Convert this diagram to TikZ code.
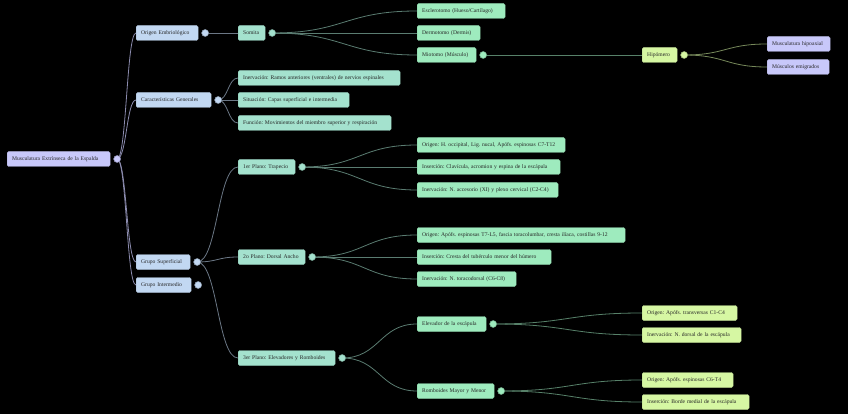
\documentclass[tikz,border=0pt]{standalone}
\usepackage{fontspec}
\setmainfont{Liberation Serif}
\usetikzlibrary{calc,positioning,backgrounds}
\frenchspacing

\definecolor{rootc}{HTML}{C8C8FA}
\definecolor{lonec}{HTML}{C2D8F2}
\definecolor{ltwoc}{HTML}{A4E2CE}
\definecolor{lthreec}{HTML}{9EEBBE}
\definecolor{lfourc}{HTML}{D6F7A3}
\definecolor{lfivec}{HTML}{C8C8FA}

\tikzset{
  box/.style={rectangle, rounded corners=1.5pt, anchor=west, minimum height=15pt,
    inner xsep=5pt, inner ysep=0pt, align=left, text=black!85,
    font=\fontsize{5.6}{6.5}\selectfont, line width=0.4pt},
  dot/.style={circle, inner sep=0pt, minimum size=7pt, line width=0.5pt},
  link/.style={line width=0.8pt},
}

% curved link: from the parent's dot to the child's left side
\newcommand\lnk[3]{%
  \draw[link,#1] let \p1=(#2), \p2=(#3.west) in
    (\p1) .. controls ({(\x1+\x2)/2},\y1) and ({(\x1+\x2)/2},\y2) .. (\p2);}

\begin{document}
\begin{tikzpicture}[x=1pt, y=-1pt]
  % background
  \begin{pgfonlayer}{background}
    \fill[black] (0,0) rectangle (848,414);
  \end{pgfonlayer}
  \useasboundingbox (0,0) rectangle (848,414);

  % root
  \node[box, fill=rootc, draw=rootc!85!black, text width=93pt] (mee) at (7,159) {Musculatura Extrínseca de la Espalda};

  % level 1
  \node[box, fill=lonec, draw=lonec!85!black, text width=52pt] (origen) at (136,33) {Origen Embriológico};
  \node[box, fill=lonec, draw=lonec!85!black, text width=65pt] (caract) at (136,100) {Características Generales};
  \node[box, fill=lonec, draw=lonec!85!black, text width=44pt] (gsup) at (136,262) {Grupo Superficial};
  \node[box, fill=lonec, draw=lonec!85!black, text width=45pt] (ginter) at (136,285) {Grupo Intermedio};

  % level 2
  \node[box, fill=ltwoc, draw=ltwoc!85!black, text width=17pt] (somita) at (238,33) {Somita};
  \node[box, fill=ltwoc, draw=ltwoc!85!black, text width=152pt] (inerv) at (238,78) {Inervación: Ramos anteriores (ventrales) de nervios espinales};
  \node[box, fill=ltwoc, draw=ltwoc!85!black, text width=101pt] (situ) at (238,100) {Situación: Capas superficial e intermedia};
  \node[box, fill=ltwoc, draw=ltwoc!85!black, text width=143pt] (func) at (238,123) {Función: Movimientos del miembro superior y respiración};
  \node[box, fill=ltwoc, draw=ltwoc!85!black, text width=47pt] (trap) at (238,167) {1er Plano: Trapecio};
  \node[box, fill=ltwoc, draw=ltwoc!85!black, text width=57pt] (dorsal) at (238,257) {2o Plano: Dorsal Ancho};
  \node[box, fill=ltwoc, draw=ltwoc!85!black, text width=87pt] (elevrom) at (238,358) {3er Plano: Elevadores y Romboides};

  % level 3
  \node[box, fill=lthreec, draw=lthreec!85!black, text width=78pt] (escl) at (417,11) {Esclerotomo (Hueso/Cartílago)};
  \node[box, fill=lthreec, draw=lthreec!85!black, text width=53pt] (derm) at (417,33) {Dermotomo (Dermis)};
  \node[box, fill=lthreec, draw=lthreec!85!black, text width=49pt] (mio) at (417,55) {Miotomo (Músculo)};
  \node[box, fill=lthreec, draw=lthreec!85!black, text width=138pt] (trapo) at (417,145) {Origen: H. occipital, Lig. nucal, Apófs. espinosas C7-T12};
  \node[box, fill=lthreec, draw=lthreec!85!black, text width=133pt] (trapi) at (417,167) {Inserción: Clavícula, acromion y espina de la escápula};
  \node[box, fill=lthreec, draw=lthreec!85!black, text width=131pt] (trapn) at (417,190) {Inervación: N. accesorio (XI) y plexo cervical (C2-C4)};
  \node[box, fill=lthreec, draw=lthreec!85!black, text width=198pt] (dorso) at (417,235) {Origen: Apófs. espinosas T7-L5, fascia toracolumbar, cresta ilíaca, costillas 9-12};
  \node[box, fill=lthreec, draw=lthreec!85!black, text width=124pt] (dorsi) at (417,257) {Inserción: Cresta del tubérculo menor del húmero};
  \node[box, fill=lthreec, draw=lthreec!85!black, text width=89pt] (dorsn) at (417,279) {Inervación: N. toracodorsal (C6-C8)};
  \node[box, fill=lthreec, draw=lthreec!85!black, text width=59pt] (levsc) at (417,324) {Elevador de la escápula};
  \node[box, fill=lthreec, draw=lthreec!85!black, text width=67pt] (romb) at (417,391) {Romboides Mayor y Menor};

  % level 4
  \node[box, fill=lfourc, draw=lfourc!85!black, text width=25pt] (hipo) at (642,55) {Hipómero};
  \node[box, fill=lfourc, draw=lfourc!85!black, text width=85pt] (levo) at (642,313) {Origen: Apófs. transversas C1-C4};
  \node[box, fill=lfourc, draw=lfourc!85!black, text width=89pt] (levn) at (642,335) {Inervación: N. dorsal de la escápula};
  \node[box, fill=lfourc, draw=lfourc!85!black, text width=81pt] (rombo) at (642,380) {Origen: Apófs. espinosas C6-T4};
  \node[box, fill=lfourc, draw=lfourc!85!black, text width=97pt] (rombi) at (642,402) {Inserción: Borde medial de la escápula};

  % level 5
  \node[box, fill=lfivec, draw=lfivec!85!black, text width=53pt] (hipax) at (767,44) {Musculatura hipoaxial};
  \node[box, fill=lfivec, draw=lfivec!85!black, text width=52pt] (emig) at (767,67) {Músculos emigrados};

  % toggle dots
  \node[dot, fill=rootc, draw=rootc!70!black, right=3pt of mee] (d-mee) {};
  \node[dot, fill=lonec, draw=lonec!70!black, right=3pt of origen] (d-origen) {};
  \node[dot, fill=lonec, draw=lonec!70!black, right=3pt of caract] (d-caract) {};
  \node[dot, fill=lonec, draw=lonec!70!black, right=3pt of gsup] (d-gsup) {};
  \node[dot, fill=lonec, draw=lonec!70!black, right=3pt of ginter] (d-ginter) {};
  \node[dot, fill=ltwoc, draw=ltwoc!70!black, right=3pt of somita] (d-somita) {};
  \node[dot, fill=ltwoc, draw=ltwoc!70!black, right=3pt of trap] (d-trap) {};
  \node[dot, fill=ltwoc, draw=ltwoc!70!black, right=3pt of dorsal] (d-dorsal) {};
  \node[dot, fill=ltwoc, draw=ltwoc!70!black, right=3pt of elevrom] (d-elevrom) {};
  \node[dot, fill=lthreec, draw=lthreec!70!black, right=3pt of mio] (d-mio) {};
  \node[dot, fill=lthreec, draw=lthreec!70!black, right=3pt of levsc] (d-levsc) {};
  \node[dot, fill=lthreec, draw=lthreec!70!black, right=3pt of romb] (d-romb) {};
  \node[dot, fill=lfourc, draw=lfourc!70!black, right=3pt of hipo] (d-hipo) {};

  % links, kept under the boxes and dots
  \begin{pgfonlayer}{background}
  \foreach \c in {origen,caract,gsup,ginter}{\lnk{rootc!70!black}{d-mee}{\c}}
  \lnk{lonec!55!black}{d-origen}{somita}
  \foreach \c in {inerv,situ,func}{\lnk{lonec!55!black}{d-caract}{\c}}
  \foreach \c in {trap,dorsal,elevrom}{\lnk{lonec!55!black}{d-gsup}{\c}}
  \foreach \c in {escl,derm,mio}{\lnk{ltwoc!55!black}{d-somita}{\c}}
  \foreach \c in {trapo,trapi,trapn}{\lnk{ltwoc!55!black}{d-trap}{\c}}
  \foreach \c in {dorso,dorsi,dorsn}{\lnk{ltwoc!55!black}{d-dorsal}{\c}}
  \foreach \c in {levsc,romb}{\lnk{ltwoc!55!black}{d-elevrom}{\c}}
  \lnk{lthreec!55!black}{d-mio}{hipo}
  \foreach \c in {levo,levn}{\lnk{lthreec!55!black}{d-levsc}{\c}}
  \foreach \c in {rombo,rombi}{\lnk{lthreec!55!black}{d-romb}{\c}}
  \foreach \c in {hipax,emig}{\lnk{lfourc!55!black}{d-hipo}{\c}}
  \end{pgfonlayer}
\end{tikzpicture}
\end{document}
